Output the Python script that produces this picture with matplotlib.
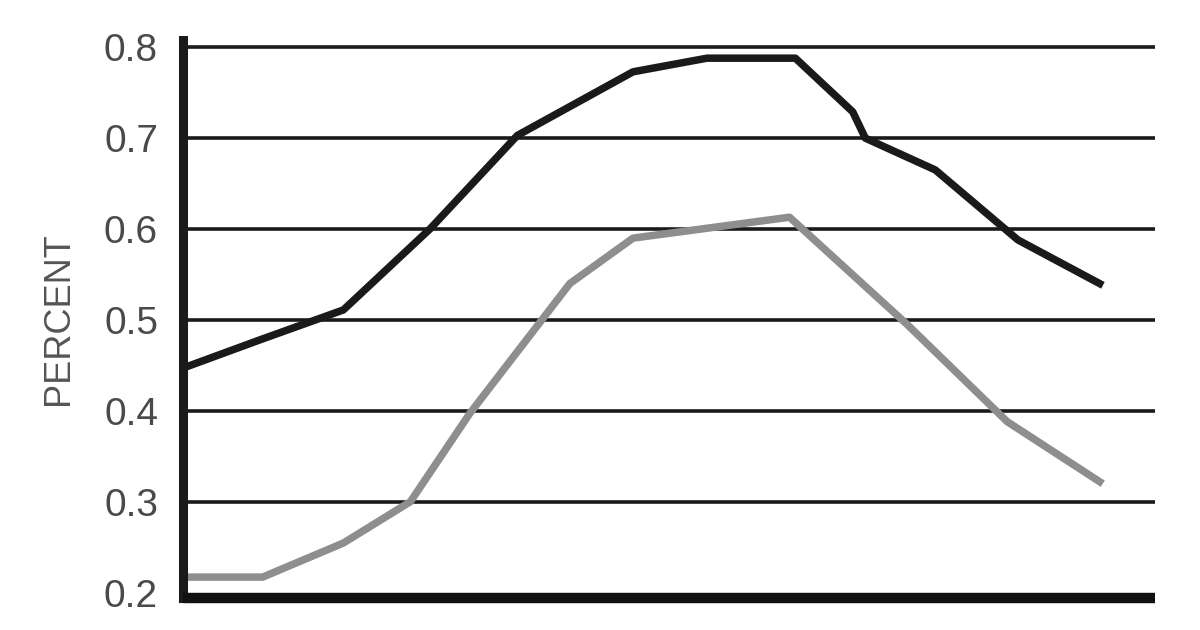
import matplotlib

matplotlib.use("Agg")
import matplotlib.pyplot as plt  # noqa: E402

# x positions are in arbitrary units along the horizontal axis (0..100)
upper_x = [0, 7.9, 16.5, 25.4, 34.4, 46.3, 53.9, 63.0, 68.9, 70.2, 77.4, 85.9, 94.3]
upper_y = [0.447, 0.478, 0.511, 0.600, 0.703, 0.773, 0.788, 0.788, 0.729, 0.700, 0.665, 0.588, 0.540]

lower_x = [0, 8.2, 16.5, 23.4, 29.5, 36.7, 39.8, 46.3, 62.4, 74.5, 84.8, 94.3]
lower_y = [0.217, 0.217, 0.2545, 0.300, 0.397, 0.497, 0.540, 0.590, 0.613, 0.495, 0.388, 0.322]

y_ticks = [0.2, 0.3, 0.4, 0.5, 0.6, 0.7, 0.8]
grid_levels = [0.3, 0.4, 0.5, 0.6, 0.7, 0.8]

plt.rcParams["font.family"] = ["Liberation Sans", "DejaVu Sans"]

fig = plt.figure(figsize=(12, 6.3), dpi=100)
ax = fig.add_axes([0.1525, 0.0508, 0.81, 0.8857])

for level in grid_levels:
    ax.axhline(level, color="#1a1a1a", linewidth=2.6, zorder=1)

ax.plot(upper_x, upper_y, color="#1a1a1a", linewidth=5.4, solid_joinstyle="round", zorder=3)
ax.plot(lower_x, lower_y, color="#8e8e8e", linewidth=5.4, solid_joinstyle="round", zorder=2)

ax.set_xlim(0, 100)
ax.set_ylim(0.194, 0.808)
ax.set_xticks([])
ax.set_yticks(y_ticks)
ax.set_yticklabels([f"{v:.1f}" for v in y_ticks], fontsize=28, color="#4a4a4a")
ax.tick_params(axis="y", length=0, pad=18)

for side in ("top", "right"):
    ax.spines[side].set_visible(False)
ax.spines["left"].set_linewidth(6.5)
ax.spines["left"].set_color("#1a1a1a")
ax.spines["bottom"].set_linewidth(7.5)
ax.spines["bottom"].set_color("#111111")
ax.spines["bottom"].set_capstyle("butt")

ax.set_ylabel("PERCENT", fontsize=26, color="#555555", labelpad=20)

fig.savefig("out.png", dpi=100)
plt.close(fig)
